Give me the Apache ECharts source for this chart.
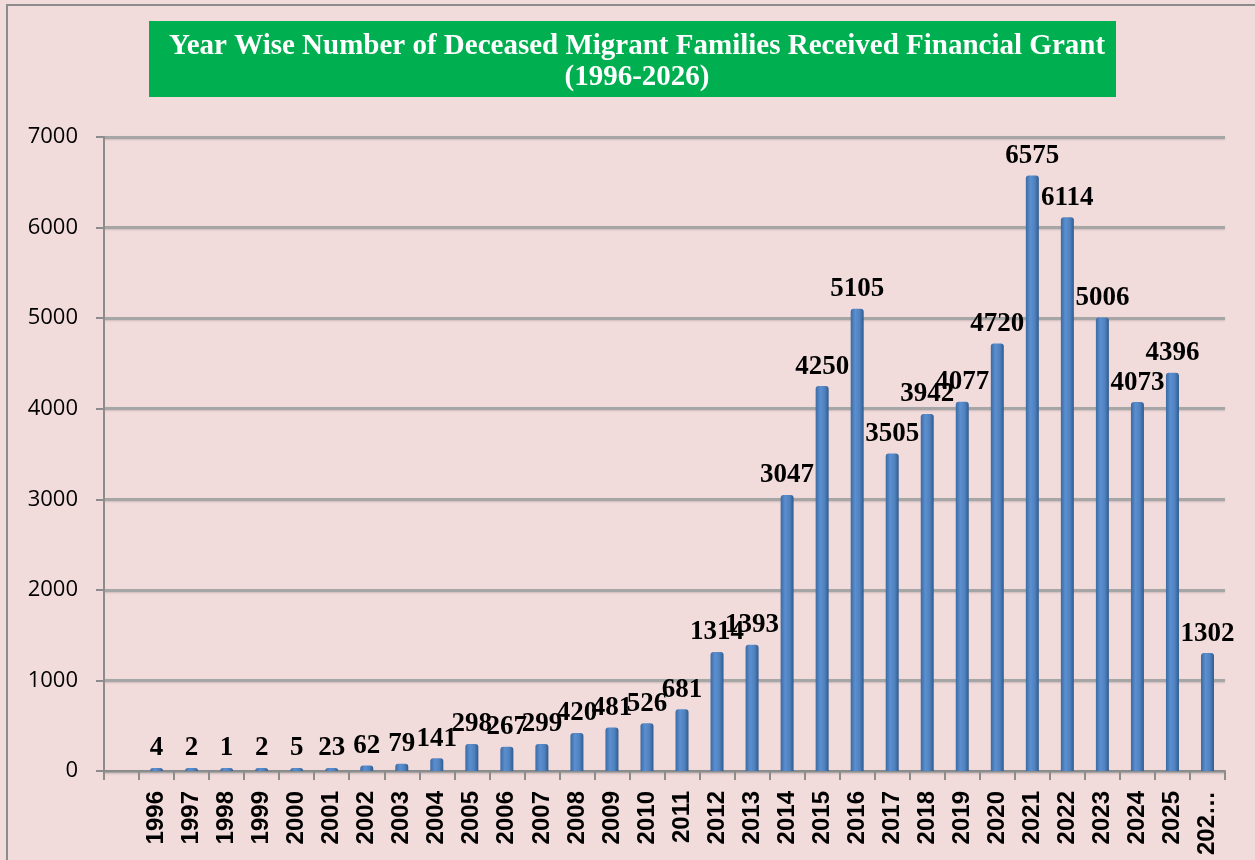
<!DOCTYPE html>
<html>
<head>
<meta charset="utf-8">
<script src="https://cdn.jsdelivr.net/npm/echarts@6/dist/echarts.min.js"></script>
<style>
  html, body { margin: 0; padding: 0; background: #f2dcdb; }
  #main { width: 1255px; height: 860px; }
</style>
</head>
<body>
<div id="main"></div>
<script>
// first slot is empty in the original sheet
var years = ['', '1996', '1997', '1998', '1999', '2000', '2001', '2002', '2003', '2004', '2005',
  '2006', '2007', '2008', '2009', '2010', '2011', '2012', '2013', '2014', '2015',
  '2016', '2017', '2018', '2019', '2020', '2021', '2022', '2023', '2024', '2025', '2026'];
var families = [null, 4, 2, 1, 2, 5, 23, 62, 79, 141, 298,
  267, 299, 420, 481, 526, 681, 1314, 1393, 3047, 4250,
  5105, 3505, 3942, 4077, 4720, 6575, 6114, 5006, 4073, 4396, 1302];
var yTicks = [0, 1000, 2000, 3000, 4000, 5000, 6000, 7000];

var chartDom = document.getElementById('main');
var myChart = echarts.init(chartDom);
var option;

option = {
  backgroundColor: '#f2dcdb',
  animation: false,
  graphic: [
    {
      type: 'rect',
      shape: { x: 7, y: 5, width: 1260, height: 870 },
      style: { fill: 'none', stroke: '#8c8c8c', lineWidth: 2 },
      silent: true
    },
    {
      type: 'rect',
      shape: { x: 149, y: 21, width: 967, height: 76 },
      style: { fill: '#00b050' },
      z: 0
    }
  ],
  title: {
    text: 'Year Wise Number of Deceased Migrant Families Received Financial Grant\n(1996-2026)',
    left: 632,
    top: 26,
    textAlign: 'center',
    textStyle: {
      color: '#ffffff',
      fontFamily: 'Liberation Serif',
      fontWeight: 'bold',
      fontSize: 29,
      lineHeight: 31
    },
    z: 5
  },
  grid: {
    left: 104,
    right: 30,
    top: 137,
    bottom: 89
  },
  xAxis: {
    type: 'category',
    data: years,
    axisLine: { lineStyle: { color: '#8c8c8c', width: 2 } },
    axisTick: { show: true, alignWithLabel: false, length: 9, lineStyle: { color: '#8c8c8c', width: 2 } },
    axisLabel: {
      interval: 0,
      rotate: 90,
      margin: 20,
      color: '#000',
      fontFamily: 'Liberation Sans',
      fontWeight: 'bold',
      fontSize: 24,
      formatter: function (v, i) {
        return i === years.length - 1 ? v.slice(0, 3) + '…' : v;
      }
    }
  },
  yAxis: {
    type: 'value',
    min: yTicks[0],
    max: yTicks[yTicks.length - 1],
    interval: 1000,
    axisLine: { show: true, lineStyle: { color: '#8c8c8c', width: 2 } },
    axisTick: { show: true, length: 8, lineStyle: { color: '#8c8c8c', width: 2 } },
    axisLabel: {
      margin: 26,
      padding: [8, 0, 0, 0],
      color: '#000',
      fontFamily: 'Open Sans',
      fontSize: 22,
      formatter: function (v) { return String(v); }
    },
    splitLine: {
      lineStyle: { color: '#a6a6a6', width: 3, shadowColor: 'rgba(0,0,0,0.15)', shadowBlur: 2, shadowOffsetY: 1 }
    }
  },
  series: [
    {
      type: 'bar',
      data: families,
      barWidth: 13,
      barMinHeight: 3,
      itemStyle: {
        borderRadius: [3, 3, 0, 0],
        color: new echarts.graphic.LinearGradient(0, 0, 1, 0, [
          { offset: 0, color: '#3b6aa3' },
          { offset: 0.35, color: '#5b8fd0' },
          { offset: 0.7, color: '#4f81bd' },
          { offset: 1, color: '#2f5a8e' }
        ])
      },
      label: {
        show: true,
        position: 'top',
        distance: 6,
        color: '#000',
        fontFamily: 'Liberation Serif',
        fontWeight: 'bold',
        fontSize: 27
      }
    }
  ]
};

option && myChart.setOption(option);
</script>
</body>
</html>
